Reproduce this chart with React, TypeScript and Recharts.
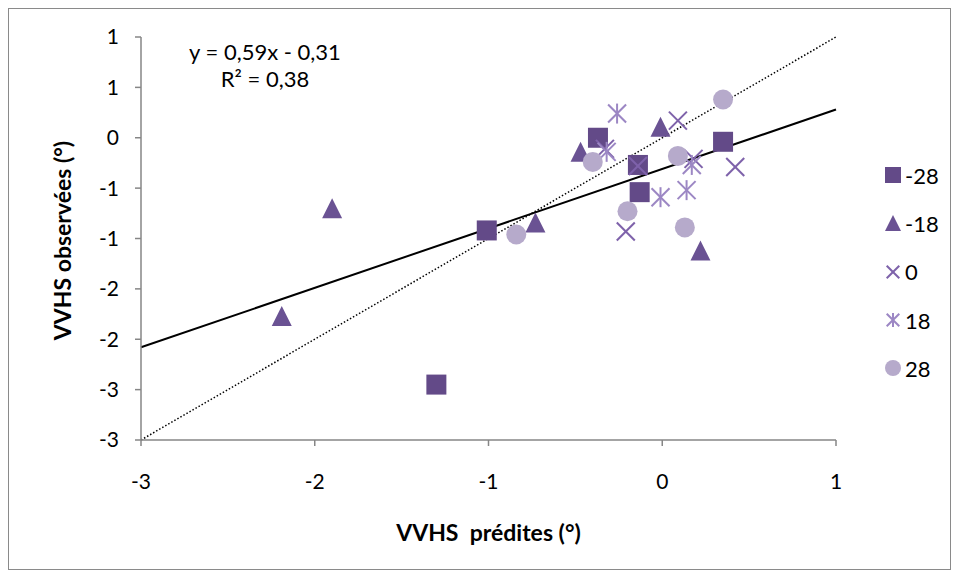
import { ScatterChart, Scatter, XAxis, YAxis, ReferenceLine, Legend } from 'recharts';

// axes: Excel rounds the 0.5 steps with a "0" format, hence the repeated labels
const xTicks = [-3, -2, -1, 0, 1];
const yTicks = [-3, -2.5, -2, -1.5, -1, -0.5, 0, 0.5, 1];
const yTickLabels = ['-3', '-3', '-2', '-2', '-1', '-1', '0', '1', '1'];

// one array per series (predicted x, observed y)
const serieM28 = [
  { x: -0.37, y: 0.0 },
  { x: 0.35, y: -0.04 },
  { x: -0.14, y: -0.27 },
  { x: -0.13, y: -0.54 },
  { x: -1.01, y: -0.92 },
  { x: -1.3, y: -2.45 },
];
const serieM18 = [
  { x: -1.9, y: -0.7 },
  { x: -0.47, y: -0.14 },
  { x: -0.01, y: 0.11 },
  { x: -0.73, y: -0.84 },
  { x: 0.22, y: -1.12 },
  { x: -2.19, y: -1.77 },
];
const serie0 = [
  { x: 0.09, y: 0.17 },
  { x: -0.33, y: -0.11 },
  { x: -0.14, y: -0.28 },
  { x: 0.18, y: -0.21 },
  { x: 0.42, y: -0.29 },
  { x: -0.21, y: -0.93 },
];
const serie18 = [
  { x: -0.26, y: 0.24 },
  { x: -0.32, y: -0.14 },
  { x: 0.17, y: -0.27 },
  { x: 0.14, y: -0.52 },
  { x: -0.01, y: -0.59 },
];
const serie28 = [
  { x: 0.35, y: 0.38 },
  { x: -0.4, y: -0.24 },
  { x: 0.09, y: -0.18 },
  { x: -0.2, y: -0.73 },
  { x: 0.13, y: -0.89 },
  { x: -0.84, y: -0.96 },
];

// linear trend  y = 0,59x - 0,31
const slope = 0.59;
const intercept = -0.31;
const r2 = '0,38';

const C_SQ = '#634a88';
const C_TRI = '#6a5293';
const C_X = '#7e62aa';
const C_STAR = '#9c87c4';
const C_CIRC = '#b6aacb';
const AXIS = '#868686';
const FONT = 'Lato, "Open Sans", sans-serif';

type Kind = 'square' | 'triangle' | 'x' | 'star' | 'circle';

function Marker({ kind, cx, cy, r, color }: { kind: Kind; cx: number; cy: number; r: number; color: string }) {
  if (kind === 'square') return <rect x={cx - r} y={cy - r} width={r * 2} height={r * 2} fill={color} />;
  if (kind === 'triangle')
    return <polygon points={`${cx},${cy - r} ${cx + r},${cy + r} ${cx - r},${cy + r}`} fill={color} />;
  if (kind === 'circle') return <circle cx={cx} cy={cy} r={r} fill={color} />;
  const d = r * 0.9;
  return (
    <g stroke={color} strokeWidth={2} fill="none">
      <line x1={cx - d} y1={cy - d} x2={cx + d} y2={cy + d} />
      <line x1={cx - d} y1={cy + d} x2={cx + d} y2={cy - d} />
      {kind === 'star' && <line x1={cx} y1={cy - r} x2={cx} y2={cy + r} />}
    </g>
  );
}

const series = [
  { name: '-28', data: serieM28, kind: 'square' as Kind, color: C_SQ },
  { name: '-18', data: serieM18, kind: 'triangle' as Kind, color: C_TRI },
  { name: '0', data: serie0, kind: 'x' as Kind, color: C_X },
  { name: '18', data: serie18, kind: 'star' as Kind, color: C_STAR },
  { name: '28', data: serie28, kind: 'circle' as Kind, color: C_CIRC },
];

function LegendBox() {
  return (
    <div style={{ fontFamily: FONT, fontSize: 22, color: '#000' }}>
      {series.map((s) => (
        <div key={s.name} style={{ display: 'flex', alignItems: 'center', height: 48.3 }}>
          <svg width={20} height={20} style={{ marginRight: 2 }}>
            <Marker kind={s.kind} cx={10} cy={10} r={s.kind === 'x' || s.kind === 'star' ? 7 : 8} color={s.color} />
          </svg>
          <span>{s.name}</span>
        </div>
      ))}
    </div>
  );
}

// rotated y title, centred a bit below the middle of the plot like the original
const YTitle = (props: any) => {
  const { x, y, height } = props.viewBox;
  return (
    <text
      transform={`translate(${x + 53},${y + height / 2 + 2}) rotate(-90)`}
      textAnchor="middle"
      dominantBaseline="central"
      fill="#000"
      fontSize={23}
      fontWeight={700}
      fontFamily={FONT}
    >
      VVHS observées (°)
    </text>
  );
};

export default function App() {
  return (
    <div style={{ position: 'relative', width: 941, height: 560, border: '1px solid #8a8a8a', fontFamily: FONT }}>
      <ScatterChart width={941} height={560} margin={{ top: 28, right: 114, bottom: 79, left: 0 }}>
        <XAxis
          type="number"
          dataKey="x"
          domain={[-3, 1]}
          ticks={xTicks}
          allowDataOverflow
          stroke={AXIS}
          strokeWidth={1.5}
          tickSize={6}
          tickMargin={28}
          height={50}
          tick={{ fill: '#000', fontSize: 21, fontFamily: FONT }}
          label={{
            value: 'VVHS\u00a0 prédites (°)',
            position: 'bottom',
            offset: 35,
            style: { fill: '#000', fontSize: 23, fontWeight: 700, fontFamily: FONT },
          }}
        />
        <YAxis
          type="number"
          dataKey="y"
          domain={[-3, 1]}
          ticks={yTicks}
          allowDataOverflow
          tickFormatter={(v: number) => yTickLabels[yTicks.indexOf(v)]}
          stroke={AXIS}
          strokeWidth={1.5}
          tickSize={6}
          tickMargin={16}
          width={132}
          tick={{ fill: '#000', fontSize: 21, fontFamily: FONT }}
          label={<YTitle />}
        />
        {series.map((s) => (
          <Scatter
            key={s.name}
            name={s.name}
            data={s.data}
            isAnimationActive={false}
            shape={(p: any) => <Marker kind={s.kind} cx={p.cx} cy={p.cy} r={10} color={s.color} />}
          />
        ))}
        <ReferenceLine
          segment={[
            { x: -3, y: -3 },
            { x: 1, y: 1 },
          ]}
          stroke="#000"
          strokeWidth={1.5}
          strokeDasharray="1.5 2"
        />
        <ReferenceLine
          segment={[
            { x: -3, y: slope * -3 + intercept },
            { x: 1, y: slope * 1 + intercept },
          ]}
          stroke="#000"
          strokeWidth={2}
        />
        <Legend
          layout="horizontal"
          verticalAlign="middle"
          align="center"
          content={() => <LegendBox />}
          wrapperStyle={{ left: 874, top: 142, width: 80 }}
        />
      </ScatterChart>
      <div
        style={{
          position: 'absolute',
          left: 156,
          top: 29,
          width: 200,
          textAlign: 'center',
          fontSize: 22,
          lineHeight: '27px',
          color: '#000',
        }}
      >
        <div>y = 0,59x - 0,31</div>
        <div>R² = {r2}</div>
      </div>
    </div>
  );
}
